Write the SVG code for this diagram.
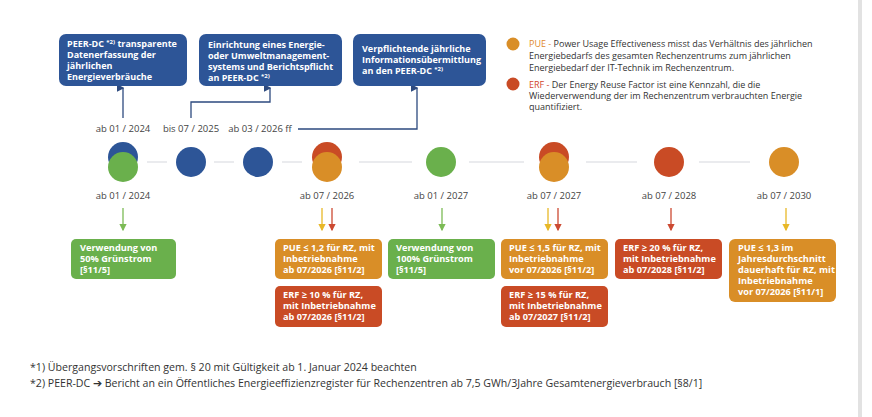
<svg xmlns="http://www.w3.org/2000/svg" width="872" height="417" viewBox="0 0 872 417">
<defs>
<style>
text{font-family:"Open Sans","Liberation Sans",sans-serif;font-size:9px;fill:#333}
.b{font-weight:bold;fill:#fff}
.s{font-size:9.2px}
.d{font-size:9.5px;fill:#444;text-anchor:middle}
.f{font-size:10.6px}
.tl{stroke:#d5d8de;stroke-width:1.2}
</style>
<marker id="ab" viewBox="0 0 6 6" refX="3" refY="5" markerWidth="6" markerHeight="6" orient="auto-start-reverse"><path d="M0,0 L6,0 L3,6z" fill="#2d4a7f"/></marker>
<marker id="ag" viewBox="0 0 6 6" refX="3" refY="5" markerWidth="6" markerHeight="6"><path d="M0,0 L6,0 L3,6z" fill="#7cbb55"/></marker>
<marker id="ay" viewBox="0 0 6 6" refX="3" refY="5" markerWidth="6" markerHeight="6"><path d="M0,0 L6,0 L3,6z" fill="#e8b828"/></marker>
<marker id="ar" viewBox="0 0 6 6" refX="3" refY="5" markerWidth="6" markerHeight="6"><path d="M0,0 L6,0 L3,6z" fill="#cc4a32"/></marker>
</defs>
<rect width="872" height="417" fill="#fff"/>
<rect x="858" y="0" width="4" height="417" fill="#e2e2e2"/>
<g id="connectors" fill="none" stroke-width="1.3">
<path d="M123,118 V88" stroke="#2d4a7f" marker-end="url(#ab)"/>
<path d="M191,118 V102 H270 V88" stroke="#2d4a7f" marker-end="url(#ab)"/>
<path d="M298,129 H417 V88" stroke="#2d4a7f" marker-end="url(#ab)"/>
<path class="tl" d="M147,162 H167 M214,162 H234 M282,162 H302 M359,162 H412 M469,162 H524 M586,162 H637 M699,162 H750"/>
<path d="M123,208 V230" stroke="#7cbb55" marker-end="url(#ag)"/>
<path d="M322,208 V230" stroke="#e8b828" marker-end="url(#ay)"/>
<path d="M332,208 V230" stroke="#cc4a32" marker-end="url(#ar)"/>
<path d="M442,208 V230" stroke="#7cbb55" marker-end="url(#ag)"/>
<path d="M548,208 V230" stroke="#e8b828" marker-end="url(#ay)"/>
<path d="M558,208 V230" stroke="#cc4a32" marker-end="url(#ar)"/>
<path d="M671,208 V230" stroke="#cc4a32" marker-end="url(#ar)"/>
<path d="M786,208 V230" stroke="#e8b828" marker-end="url(#ay)"/>
</g>
<g id="top1"><rect x="59" y="34" width="128" height="52" rx="7" fill="#2d5597"/><text class="b" x="67" y="47">PEER-DC <tspan font-size="6" dy="-3">*2)</tspan><tspan dy="3"> transparente</tspan></text><text class="b" x="67" y="58">Datenerfassung der</text><text class="b" x="67" y="69">jährlichen</text><text class="b" x="67" y="80">Energieverbräuche</text></g>
<g id="top2"><rect x="199" y="34" width="143" height="52" rx="7" fill="#2d5597"/><text class="b" x="208" y="48">Einrichtung eines Energie-</text><text class="b" x="208" y="59">oder Umweltmanagement-</text><text class="b" x="208" y="70">systems und Berichtspflicht</text><text class="b" x="208" y="81">an PEER-DC <tspan font-size="6" dy="-3">*2)</tspan></text></g>
<g id="top3"><rect x="353" y="34" width="133" height="52" rx="7" fill="#2d5597"/><text class="b" x="362" y="52">Verpflichtende jährliche</text><text class="b" x="362" y="63">Informationsübermittlung</text><text class="b" x="362" y="74">an den PEER-DC <tspan font-size="6" dy="-3">*2)</tspan></text></g>
<g id="legend">
<circle cx="513" cy="44" r="6.5" fill="#d98e27"/><text x="529" y="47"><tspan fill="#e08a2a">PUE - </tspan>Power Usage Effectiveness misst das Verhältnis des jährlichen</text><text x="529" y="59">Energiebedarfs des gesamten Rechenzentrums zum jährlichen</text><text x="529" y="71">Energiebedarf der IT-Technik im Rechenzentrum.</text>
<circle cx="513" cy="84" r="6.5" fill="#c94b25"/><text x="529" y="88"><tspan fill="#d2462a">ERF - </tspan>Der Energy Reuse Factor ist eine Kennzahl, die die</text><text x="529" y="99">Wiederverwendung der im Rechenzentrum verbrauchten Energie</text><text x="529" y="110">quantifiziert.</text>
</g>
<g id="labels-top"><text class="d" x="123" y="132">ab 01 / 2024</text><text class="d" x="191" y="132">bis 07 / 2025</text><text class="d" x="260" y="132">ab 03 / 2026 ff</text></g>
<g id="n1"><circle cx="123" cy="157" r="15" fill="#2d5597"/><circle cx="123" cy="167" r="15" fill="#6ab04c"/><text class="d" x="123" y="199">ab 01 / 2024</text></g>
<g id="n2"><circle cx="191" cy="162" r="15" fill="#2d5597"/></g>
<g id="n3"><circle cx="258" cy="162" r="15" fill="#2d5597"/></g>
<g id="n4"><circle cx="327" cy="157" r="15" fill="#c94b25"/><circle cx="327" cy="167" r="15" fill="#d98e27"/><text class="d" x="327" y="199">ab 07 / 2026</text></g>
<g id="n5"><circle cx="441" cy="162" r="15" fill="#6ab04c"/><text class="d" x="441" y="199">ab 01 / 2027</text></g>
<g id="n6"><circle cx="554" cy="157" r="15" fill="#c94b25"/><circle cx="554" cy="167" r="15" fill="#d98e27"/><text class="d" x="554" y="199">ab 07 / 2027</text></g>
<g id="n7"><circle cx="669" cy="162" r="15" fill="#c94b25"/><text class="d" x="669" y="199">ab 07 / 2028</text></g>
<g id="n8"><circle cx="784" cy="162" r="15" fill="#d98e27"/><text class="d" x="784" y="199">ab 07 / 2030</text></g>
<g id="b1"><rect x="71" y="239" width="105" height="40" rx="5" fill="#6ab04c"/><text class="b s" x="80" y="251">Verwendung von</text><text class="b s" x="80" y="262">50% Grünstrom</text><text class="b s" x="80" y="273">[§11/5]</text></g>
<g id="b2"><rect x="275" y="239" width="107" height="40" rx="5" fill="#d98e27"/><text class="b s" x="283" y="251">PUE ≤ 1,2 für RZ, mit</text><text class="b s" x="283" y="262">Inbetriebnahme</text><text class="b s" x="283" y="273">ab 07/2026 [§11/2]</text></g>
<g id="b3"><rect x="275" y="286" width="107" height="41" rx="5" fill="#c94b25"/><text class="b s" x="283" y="298">ERF ≥ 10 % für RZ,</text><text class="b s" x="283" y="309">mit Inbetriebnahme</text><text class="b s" x="283" y="320">ab 07/2026 [§11/2]</text></g>
<g id="b4"><rect x="388" y="239" width="107" height="40" rx="5" fill="#6ab04c"/><text class="b s" x="396" y="251">Verwendung von</text><text class="b s" x="396" y="262">100% Grünstrom</text><text class="b s" x="396" y="273">[§11/5]</text></g>
<g id="b5"><rect x="501" y="239" width="107" height="40" rx="5" fill="#d98e27"/><text class="b s" x="509" y="251">PUE ≤ 1,5 für RZ, mit</text><text class="b s" x="509" y="262">Inbetriebnahme</text><text class="b s" x="509" y="273">vor 07/2026 [§11/2]</text></g>
<g id="b6"><rect x="501" y="286" width="107" height="41" rx="5" fill="#c94b25"/><text class="b s" x="509" y="298">ERF ≥ 15 % für RZ,</text><text class="b s" x="509" y="309">mit Inbetriebnahme</text><text class="b s" x="509" y="320">ab 07/2027 [§11/2]</text></g>
<g id="b7"><rect x="615" y="239" width="107" height="40" rx="5" fill="#c94b25"/><text class="b s" x="623" y="251">ERF ≥ 20 % für RZ,</text><text class="b s" x="623" y="262">mit Inbetriebnahme</text><text class="b s" x="623" y="273">ab 07/2028 [§11/2]</text></g>
<g id="b8"><rect x="729" y="239" width="107" height="63" rx="6" fill="#d98e27"/><text class="b s" x="738" y="251">PUE ≤ 1,3 im</text><text class="b s" x="738" y="262">Jahresdurchschnitt</text><text class="b s" x="738" y="273">dauerhaft für RZ, mit</text><text class="b s" x="738" y="284">Inbetriebnahme</text><text class="b s" x="738" y="295">vor 07/2026 [§11/1]</text></g>
<g id="foot"><text class="f" x="30" y="371">*1) Übergangsvorschriften gem. § 20 mit Gültigkeit ab 1. Januar 2024 beachten</text><text class="f" x="30" y="387">*2) PEER-DC ➔ Bericht an ein Öffentliches Energieeffizienzregister für Rechenzentren ab 7,5 GWh/3Jahre Gesamtenergieverbrauch [§8/1]</text></g>
</svg>
